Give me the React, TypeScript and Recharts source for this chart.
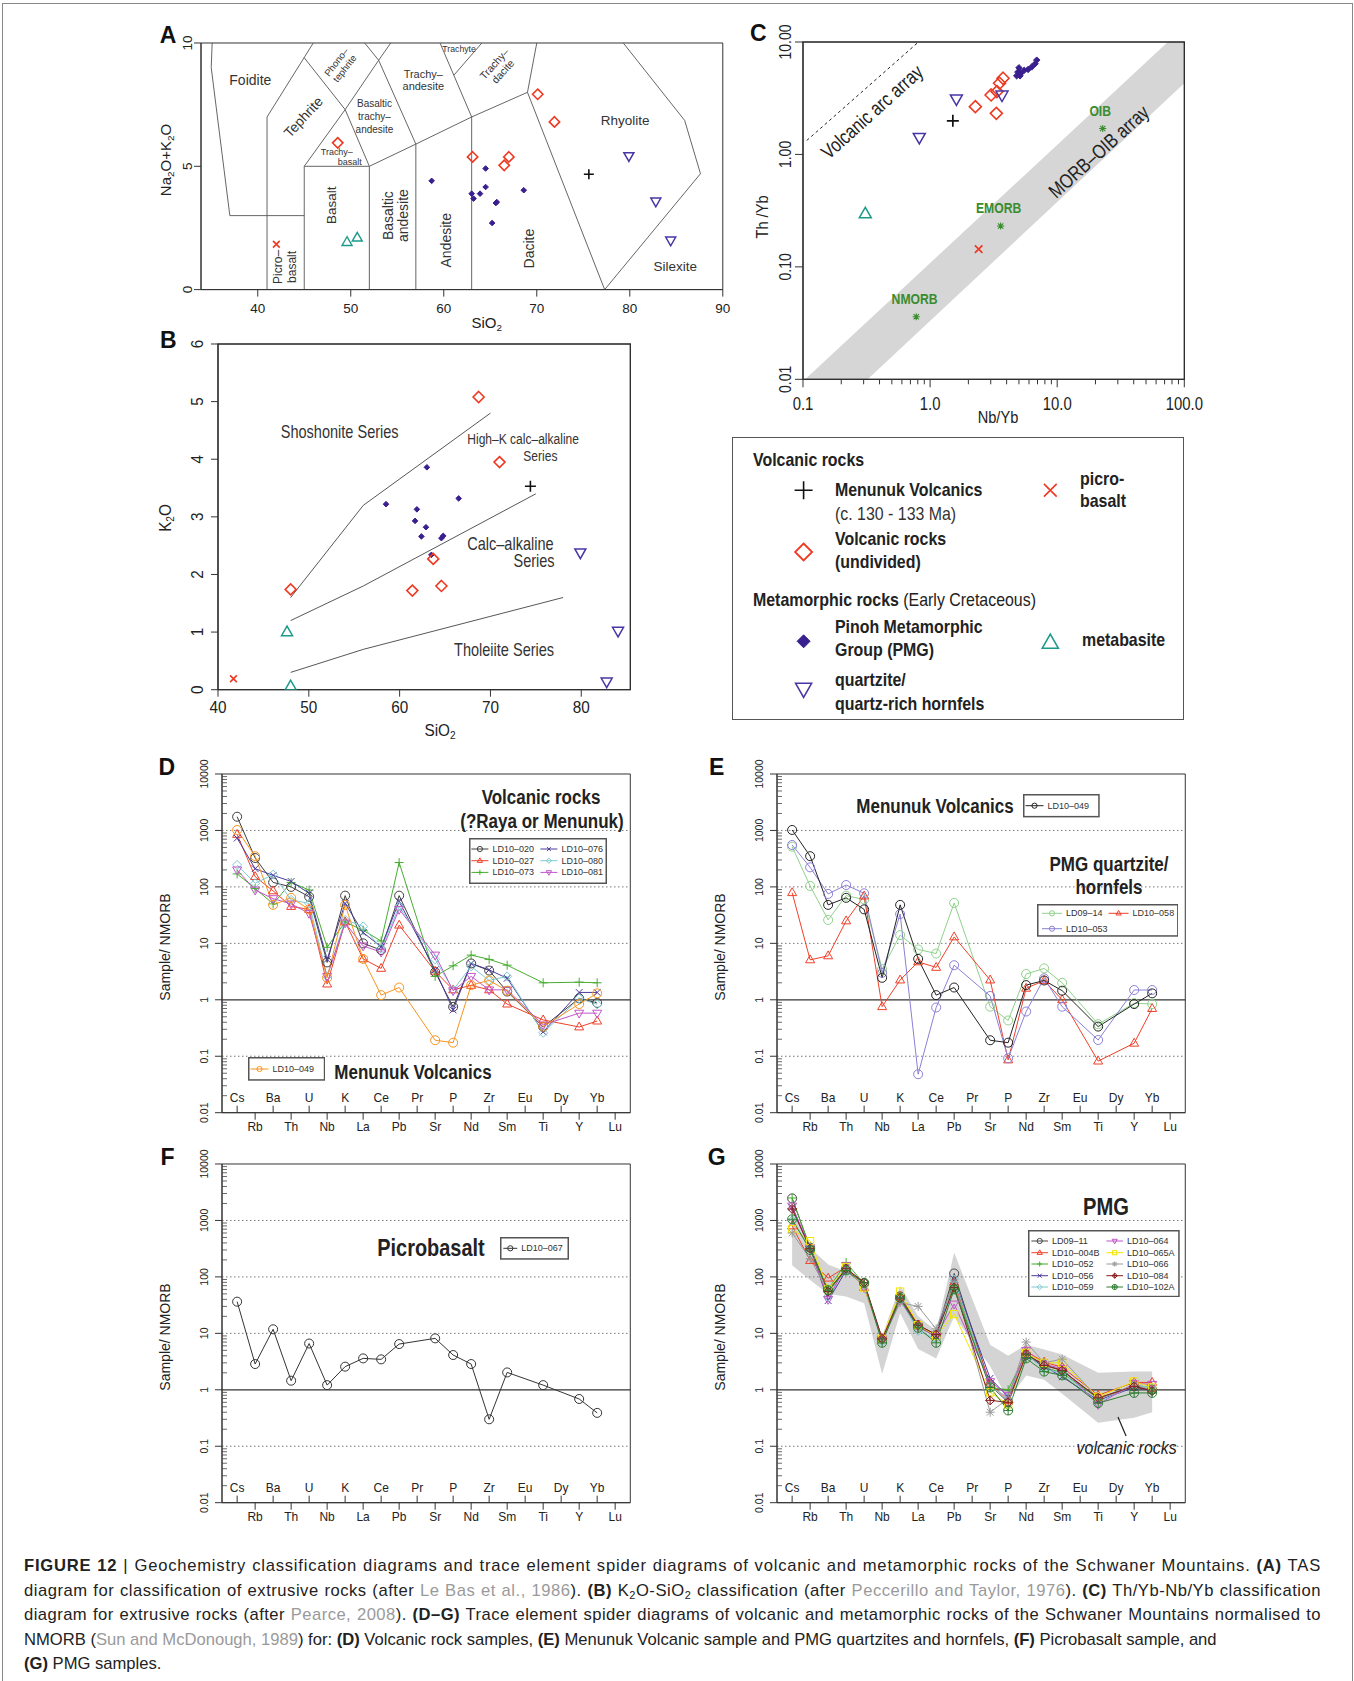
import React from 'react';
import {
  ComposedChart,
  XAxis,
  YAxis,
  Scatter,
  Line,
  Area,
  ReferenceLine,
  ReferenceArea,
  ReferenceDot,
} from 'recharts';

const SANS = '"Liberation Sans", Arial, sans-serif';

const RED = '#ee3a23';
const TEAL = '#1c9a8a';
const QTZ = '#4a35a6';
const PMG = '#3a1f8f';
const REFGREEN = '#3a8c2f';

// ---------- A: TAS (SiO2 vs Na2O+K2O) ----------
const TAS_X_TICKS = [40, 50, 60, 70, 80, 90];
const TAS_Y_TICKS = [0, 5, 10];
const TAS_PMG = [
  { x: 58.7, y: 4.41 }, { x: 64.5, y: 4.91 }, { x: 64.5, y: 4.16 }, { x: 63.0, y: 3.89 },
  { x: 63.9, y: 3.89 }, { x: 63.2, y: 3.69 }, { x: 65.6, y: 3.51 }, { x: 65.7, y: 3.55 },
  { x: 65.2, y: 2.7 }, { x: 68.6, y: 4.03 },
];
const TAS_VOLC = [
  { x: 48.6, y: 5.95 }, { x: 63.1, y: 5.38 }, { x: 66.5, y: 5.04 }, { x: 67.0, y: 5.38 },
  { x: 70.1, y: 7.92 }, { x: 71.9, y: 6.8 },
];
const TAS_MENUNUK = [{ x: 75.6, y: 4.68 }];
const TAS_PICRO = [{ x: 42.0, y: 1.84 }];
const TAS_META = [{ x: 49.6, y: 1.92 }, { x: 50.7, y: 2.1 }];
const TAS_QTZ = [{ x: 79.9, y: 5.42 }, { x: 82.8, y: 3.58 }, { x: 84.4, y: 2.0 }];
// field boundaries (Le Bas et al. 1986), cut at 10 wt%
const TAS_BOUNDARIES = [
  [[41, 0], [41, 7], [45.97, 10]],
  [[35.1, 10], [35, 9], [37, 3], [45, 3]],
  [[45, 0], [45, 5], [49.4, 7.3], [53, 9.3], [54.3, 10]],
  [[45, 5], [52, 5], [57, 5.9], [63, 7], [69, 8], [77.3, 0]],
  [[52, 0], [52, 5]],
  [[57, 0], [57, 5.9]],
  [[63, 0], [63, 7]],
  [[52, 5], [49.4, 7.3]],
  [[45, 9.4], [49.4, 7.3]],
  [[53, 9.3], [51.5, 10]],
  [[57, 5.9], [53, 9.3]],
  [[63, 7], [59.6, 10]],
  [[61.1, 8.7], [64.1, 10]],
  [[69, 8], [70, 10]],
  [[79.3, 10], [85.9, 6.86], [87.6, 4.7], [77.3, 0]],
];

// ---------- B: K2O vs SiO2 ----------
const K2O_X_TICKS = [40, 50, 60, 70, 80];
const K2O_Y_TICKS = [0, 1, 2, 3, 4, 5, 6];
const K2O_PMG = [
  { x: 58.5, y: 3.22 }, { x: 63.0, y: 3.86 }, { x: 61.9, y: 3.13 }, { x: 61.7, y: 2.93 },
  { x: 62.9, y: 2.82 }, { x: 62.4, y: 2.66 }, { x: 66.5, y: 3.32 }, { x: 64.6, y: 2.63 },
  { x: 64.8, y: 2.67 }, { x: 63.5, y: 2.34 },
];
const K2O_VOLC = [
  { x: 68.7, y: 5.08 }, { x: 71.0, y: 3.95 }, { x: 63.7, y: 2.27 }, { x: 61.4, y: 1.72 },
  { x: 64.6, y: 1.8 }, { x: 48.0, y: 1.74 },
];
const K2O_MENUNUK = [{ x: 74.4, y: 3.53 }];
const K2O_PICRO = [{ x: 41.7, y: 0.19 }];
const K2O_META = [{ x: 47.6, y: 1.0 }, { x: 48.0, y: 0.06 }];
const K2O_QTZ = [{ x: 79.9, y: 2.38 }, { x: 84.05, y: 1.02 }, { x: 82.8, y: 0.14 }];
const K2O_BOUNDARIES = [
  [[48, 1.6], [56, 3.2], [70, 4.8]],
  [[48, 1.2], [56, 1.8], [75, 3.4]],
  [[48, 0.3], [56, 0.7], [78, 1.6]],
];

// ---------- C: Th/Yb vs Nb/Yb ----------
const C_X_MAJOR = [0.1, 1, 10, 100];
const C_X_LABELS = ['0.1', '1.0', '10.0', '100.0'];
const C_Y_MAJOR = [0.01, 0.1, 1, 10];
const C_Y_LABELS = ['0.01', '0.10', '1.00', '10.00'];
const C_PMG = [
  { x: 4.8, y: 5.0 }, { x: 4.9, y: 5.4 }, { x: 5.0, y: 5.9 }, { x: 5.2, y: 5.3 }, { x: 5.5, y: 5.6 },
  { x: 5.9, y: 5.7 }, { x: 6.3, y: 6.0 }, { x: 6.7, y: 6.4 }, { x: 6.9, y: 6.9 }, { x: 5.1, y: 5.0 },
];
const C_VOLC = [
  { x: 2.27, y: 2.66 }, { x: 3.32, y: 2.32 }, { x: 3.02, y: 3.38 }, { x: 3.36, y: 3.62 },
  { x: 3.52, y: 4.3 }, { x: 3.75, y: 4.76 },
];
const C_MENUNUK = [{ x: 1.51, y: 1.99 }];
const C_PICRO = [{ x: 2.41, y: 0.144 }];
const C_META = [{ x: 0.309, y: 0.296 }];
const C_QTZ = [{ x: 0.822, y: 1.42 }, { x: 1.61, y: 3.12 }, { x: 3.68, y: 3.38 }];
const C_REFS = [{ x: 0.778, y: 0.036 }, { x: 3.59, y: 0.231 }, { x: 22.8, y: 1.7 }];
const C_BAND = [
  { x: 0.1, band: [0.0029, 0.0096] },
  { x: 100, band: [4.3, 13.7] },
];
const C_ARC = [{ x: 0.107, y: 1.33 }, { x: 0.79, y: 9.75 }];

// ---------- D-G: spider diagrams (sample / NMORB) ----------
const ELEMENTS = ['Cs', 'Rb', 'Ba', 'Th', 'U', 'Nb', 'K', 'La', 'Ce', 'Pb', 'Pr', 'Sr', 'P', 'Nd', 'Zr', 'Sm', 'Eu', 'Ti', 'Dy', 'Y', 'Yb', 'Lu'];
const MEASURED = ['Cs', 'Rb', 'Ba', 'Th', 'U', 'Nb', 'K', 'La', 'Ce', 'Pb', 'Sr', 'P', 'Nd', 'Zr', 'Sm', 'Ti', 'Y', 'Yb'];
const SPIDER_MAJOR = [0.01, 0.1, 1, 10, 100, 1000, 10000];
const SPIDER_LABELS = ['0.01', '0.1', '1', '10', '100', '1000', '10000'];

const LD10_020 = [1750, 325, 120, 100, 67, 4.6, 70, 10, 7.6, 70, 3.1, 0.75, 4.4, 3.3, 1.4, 0.33, 1.06, 0.88];
const LD10_027 = [850, 152, 85, 45, 40, 1.9, 24, 5.3, 3.6, 21, 3.2, 1.5, 1.8, 1.5, 0.84, 0.44, 0.33, 0.42];
const LD10_073 = [170, 94, 50, 120, 88, 8.5, 24, 17, 11, 270, 2.6, 4.0, 6.2, 5.2, 4.1, 2.0, 2.05, 2.0];
const LD10_076 = [730, 210, 160, 125, 77, 5.2, 51, 15.5, 8.7, 55, 3.4, 0.66, 4.4, 3.4, 2.4, 0.27, 1.35, 1.35];
const LD10_080 = [245, 116, 165, 59, 51, 2.6, 26, 20, 8, 45, 5.2, 1.5, 3.9, 2.2, 2.6, 0.26, 1.06, 0.83];
const LD10_081 = [200, 88, 62, 50, 34, 2.6, 23, 9, 7, 40, 6.2, 1.45, 2.6, 1.5, 1.5, 0.36, 0.58, 0.58];
const LD10_049 = [1020, 350, 48, 64, 40, 2.45, 48, 5.3, 1.21, 1.65, 0.192, 0.174, 1.82, 2.2, 1.45, 0.335, 0.84, 1.3];
const LD09_14 = [516, 104, 26, 70, 60, 3.5, 14, 7.8, 6.6, 52, 0.755, 0.43, 2.86, 3.6, 2.0, 0.37, 0.87, 0.84];
const LD10_058 = [79, 5.1, 6.0, 25, 69, 0.755, 2.24, 4.7, 3.75, 13, 2.24, 0.086, 1.6, 2.18, 1.0, 0.082, 0.17, 0.7];
const LD10_053 = [553, 222, 75, 108, 77, 3.0, 33, 0.048, 0.73, 4.1, 1.17, 0.092, 0.62, 2.4, 0.755, 0.194, 1.49, 1.49];
const LD10_067 = [36.4, 2.86, 11.8, 1.45, 6.6, 1.21, 2.57, 3.6, 3.46, 6.46, 8.15, 4.13, 2.86, 0.3, 2.03, 1.21, 0.687, 0.39];
const LD09_11 = [2460, 330, 58, 140, 78, 8, 45, 14, 9.5, 115, 1.2, 0.6, 4.2, 2.8, 2.2, 0.7, 1.15, 1.0];
const LD10_004B = [800, 195, 95, 150, 65, 8, 45, 14, 9, 80, 1.3, 0.65, 4.8, 3.1, 2.5, 0.8, 1.35, 1.35];
const LD10_052 = [2500, 320, 60, 180, 75, 7.5, 45, 13, 9, 70, 1.1, 1.0, 4.5, 2.5, 2.0, 0.7, 1.2, 1.1];
const LD10_056 = [1700, 320, 38, 130, 70, 8, 40, 13, 9, 90, 1.6, 0.75, 4.0, 2.6, 1.7, 0.65, 1.1, 1.0];
const LD10_059 = [1000, 330, 45, 150, 70, 7, 40, 11, 8, 90, 1.1, 0.75, 4.3, 2.3, 2.0, 0.6, 1.2, 1.1];
const LD10_064 = [1800, 330, 40, 160, 65, 8, 38, 13, 9, 33, 1.4, 0.8, 5.0, 2.8, 2.4, 0.55, 1.3, 1.25];
const LD10_065A = [700, 430, 60, 150, 65, 8, 55, 14, 9, 22, 0.9, 0.55, 4.5, 3.0, 3.0, 0.75, 1.4, 1.1];
const LD10_066 = [600, 210, 55, 130, 70, 7.5, 35, 30, 12, 80, 0.4, 0.7, 7.0, 3.0, 3.5, 0.7, 1.2, 1.0];
const LD10_084 = [1600, 320, 55, 140, 80, 8, 42, 14, 9.5, 65, 0.65, 0.6, 4.3, 2.7, 2.2, 0.72, 1.15, 0.95];
const LD10_102A = [1050, 300, 58, 130, 78, 6.8, 42, 12.5, 6.8, 60, 1.1, 0.43, 3.6, 2.1, 1.8, 0.58, 0.88, 0.88];
// grey envelope of the volcanic rocks shown in G
const VOLC_BAND_LO = [160, 88, 50, 45, 34, 1.9, 23, 5.3, 3.6, 20, 2.6, 0.66, 1.8, 1.5, 0.85, 0.26, 0.32, 0.4];
const VOLC_BAND_HI = [1800, 330, 165, 125, 88, 9, 70, 20, 11, 270, 6.3, 4, 6.3, 5.2, 4.2, 2.0, 2.1, 2.1];

type Kind = 'circle' | 'tri' | 'dtri' | 'plus' | 'cross' | 'diamond' | 'fdiamond' | 'square' | 'star' | 'dplus' | 'cplus';
interface Series { id: string; values: number[]; color: string; kind: Kind }

const SERIES_D: Series[] = [
  { id: 'LD10–020', values: LD10_020, color: '#3d3d3d', kind: 'circle' },
  { id: 'LD10–027', values: LD10_027, color: '#f03f28', kind: 'tri' },
  { id: 'LD10–073', values: LD10_073, color: '#44ad2c', kind: 'plus' },
  { id: 'LD10–076', values: LD10_076, color: '#4a3a9c', kind: 'cross' },
  { id: 'LD10–080', values: LD10_080, color: '#7fcad2', kind: 'diamond' },
  { id: 'LD10–081', values: LD10_081, color: '#c056c8', kind: 'dtri' },
  { id: 'LD10–049', values: LD10_049, color: '#f7941d', kind: 'circle' },
];
const SERIES_E: Series[] = [
  { id: 'LD09–14', values: LD09_14, color: '#8fd18b', kind: 'circle' },
  { id: 'LD10–058', values: LD10_058, color: '#f03f28', kind: 'tri' },
  { id: 'LD10–053', values: LD10_053, color: '#8a80d6', kind: 'circle' },
  { id: 'LD10–049', values: LD10_049, color: '#222222', kind: 'circle' },
];
const SERIES_F: Series[] = [{ id: 'LD10–067', values: LD10_067, color: '#333333', kind: 'circle' }];
const SERIES_G: Series[] = [
  { id: 'LD09–11', values: LD09_11, color: '#444444', kind: 'circle' },
  { id: 'LD10–004B', values: LD10_004B, color: '#f03f28', kind: 'tri' },
  { id: 'LD10–052', values: LD10_052, color: '#44ad2c', kind: 'plus' },
  { id: 'LD10–056', values: LD10_056, color: '#4a3a9c', kind: 'cross' },
  { id: 'LD10–059', values: LD10_059, color: '#7fcad2', kind: 'diamond' },
  { id: 'LD10–064', values: LD10_064, color: '#c056c8', kind: 'dtri' },
  { id: 'LD10–065A', values: LD10_065A, color: '#f2e600', kind: 'square' },
  { id: 'LD10–066', values: LD10_066, color: '#9a9a9a', kind: 'star' },
  { id: 'LD10–084', values: LD10_084, color: '#8b1c1c', kind: 'dplus' },
  { id: 'LD10–102A', values: LD10_102A, color: '#2e7d32', kind: 'cplus' },
];

// ---------- shared drawing helpers ----------
function Marker({ kind, cx, cy, s, color, sw = 1 }: { kind: Kind; cx?: number; cy?: number; s: number; color: string; sw?: number }) {
  if (cx == null || cy == null || isNaN(cx) || isNaN(cy)) return <g />;
  const p = { stroke: color, strokeWidth: sw, fill: 'none' };
  const dia = `${cx},${cy - s} ${cx + s},${cy} ${cx},${cy + s} ${cx - s},${cy}`;
  const plus = `M${cx - s},${cy}H${cx + s}M${cx},${cy - s}V${cy + s}`;
  const k = s * 0.75;
  const cross = `M${cx - k},${cy - k}L${cx + k},${cy + k}M${cx - k},${cy + k}L${cx + k},${cy - k}`;
  switch (kind) {
    case 'circle':
      return <circle cx={cx} cy={cy} r={s} {...p} />;
    case 'tri':
      return <polygon points={`${cx},${cy - s * 1.1} ${cx - s},${cy + s * 0.65} ${cx + s},${cy + s * 0.65}`} {...p} />;
    case 'dtri':
      return <polygon points={`${cx},${cy + s * 1.1} ${cx - s},${cy - s * 0.65} ${cx + s},${cy - s * 0.65}`} {...p} />;
    case 'plus':
      return <path d={plus} {...p} />;
    case 'cross':
      return <path d={cross} {...p} />;
    case 'diamond':
      return <polygon points={dia} {...p} />;
    case 'fdiamond':
      return <polygon points={dia} stroke={color} strokeWidth={sw} fill={color} />;
    case 'square':
      return <rect x={cx - s * 0.8} y={cy - s * 0.8} width={s * 1.6} height={s * 1.6} {...p} />;
    case 'star':
      return <path d={plus + cross} {...p} />;
    case 'dplus':
      return <g><polygon points={dia} {...p} /><path d={plus} {...p} /></g>;
    case 'cplus':
      return <g><circle cx={cx} cy={cy} r={s} {...p} /><path d={plus} {...p} /></g>;
  }
  return <g />;
}

interface NoteStyle { size: number; rot?: number; bold?: boolean; italic?: boolean; color?: string; lh?: number; sx?: number }

// svg text centred on (cx, cy), optionally rotated and horizontally condensed
function NoteText({ cx, cy, lines, size, rot = 0, bold, italic, color = '#333', lh = 1.1, sx = 1 }: NoteStyle & { cx: number; cy: number; lines: string[] }) {
  const step = size * lh;
  const first = -((lines.length - 1) * step) / 2 + size * 0.35;
  return (
    <text
      transform={`translate(${cx},${cy}) rotate(${rot}) scale(${sx},1)`}
      textAnchor="middle"
      fontSize={size}
      fontFamily={SANS}
      fontWeight={bold ? 'bold' : 'normal'}
      fontStyle={italic ? 'italic' : 'normal'}
      fill={color}
    >
      {lines.map((ln, i) => (
        <tspan key={i} x={0} dy={i === 0 ? first : step}>{ln}</tspan>
      ))}
    </text>
  );
}

function note(key: string, x: number, y: number, lines: string[], st: NoteStyle) {
  return (
    <ReferenceDot
      key={key}
      x={x}
      y={y}
      r={0}
      ifOverflow="visible"
      shape={(p: any) => <NoteText cx={p.cx} cy={p.cy} lines={lines} {...st} />}
    />
  );
}

function boundaryLines(prefix: string, lines: number[][][], stroke = '#555') {
  const out: React.ReactNode[] = [];
  lines.forEach((pl, i) => {
    for (let j = 0; j < pl.length - 1; j++) {
      out.push(
        <ReferenceLine
          key={`${prefix}-${i}-${j}`}
          segment={[{ x: pl[j][0], y: pl[j][1] }, { x: pl[j + 1][0], y: pl[j + 1][1] }]}
          stroke={stroke}
          strokeWidth={0.9}
          ifOverflow="visible"
        />
      );
    }
  });
  return out;
}

function scatter(key: string, data: { x: number; y: number }[], kind: Kind, color: string, s: number, sw = 1.5) {
  return (
    <Scatter
      key={key}
      data={data}
      dataKey="y"
      isAnimationActive={false}
      shape={(p: any) => <Marker kind={kind} cx={p.cx} cy={p.cy} s={s} color={color} sw={sw} />}
    />
  );
}

// axis tick renderers (axes use tickSize 0, so x/y sit on the axis line)
const linXTick = (off: number, size: number, sx = 1) => (p: any) => (
  <g>
    <line x1={p.x} x2={p.x} y1={p.y} y2={p.y + 7} stroke="#333" />
    <text transform={`translate(${p.x},${p.y + off}) scale(${sx},1)`} textAnchor="middle" dominantBaseline="central" fontSize={size} fontFamily={SANS} fill="#222">
      {String(p.payload.value)}
    </text>
  </g>
);
const linYTick = (off: number, size: number, sx = 1) => (p: any) => (
  <g>
    <line x1={p.x - 7} x2={p.x} y1={p.y} y2={p.y} stroke="#333" />
    <text transform={`translate(${p.x - off},${p.y}) rotate(-90) scale(${sx},1)`} textAnchor="middle" dominantBaseline="central" fontSize={size} fontFamily={SANS} fill="#222">
      {String(p.payload.value)}
    </text>
  </g>
);

const logTicks = (majors: number[]) => {
  const t: number[] = [];
  majors.forEach((m, i) => {
    t.push(m);
    if (i < majors.length - 1) [2, 3, 4, 5, 6, 7, 8, 9].forEach((k) => t.push(+(m * k).toPrecision(6)));
  });
  return t;
};

const C_X_TICKS = logTicks(C_X_MAJOR);
const SPIDER_TICKS = logTicks(SPIDER_MAJOR);
const ELEMENT_TICKS = ELEMENTS.map((_, i) => i + 1);

const cXTick = (p: any) => {
  const idx = C_X_MAJOR.indexOf(p.payload.value);
  return (
    <g>
      <line x1={p.x} x2={p.x} y1={p.y} y2={p.y + (idx >= 0 ? 8 : 5)} stroke="#333" />
      {idx >= 0 && (
        <text transform={`translate(${p.x},${p.y + 24}) scale(0.85,1)`} textAnchor="middle" dominantBaseline="central" fontSize={17.5} fontFamily={SANS} fill="#222">
          {C_X_LABELS[idx]}
        </text>
      )}
    </g>
  );
};
const cYTick = (p: any) => {
  const idx = C_Y_MAJOR.indexOf(p.payload.value);
  return (
    <g>
      <line x1={p.x - 8} x2={p.x} y1={p.y} y2={p.y} stroke="#333" />
      <text transform={`translate(${p.x - 18},${p.y}) rotate(-90) scale(0.85,1)`} textAnchor="middle" dominantBaseline="central" fontSize={16.5} fontFamily={SANS} fill="#222">
        {C_Y_LABELS[idx]}
      </text>
    </g>
  );
};

const spiderXTick = (p: any) => {
  const i = p.payload.value;
  const up = i % 2 === 1;
  return (
    <g>
      <line x1={p.x} x2={p.x} y1={p.y} y2={up ? p.y - 7 : p.y + 7} stroke="#333" />
      <text x={p.x} y={up ? p.y - 15 : p.y + 14} textAnchor="middle" dominantBaseline="central" fontSize={12} fontFamily={SANS} fill="#222">
        {ELEMENTS[i - 1]}
      </text>
    </g>
  );
};
const spiderYTick = (p: any) => {
  const idx = SPIDER_MAJOR.indexOf(p.payload.value);
  if (idx < 0) return <line x1={p.x} x2={p.x + 5} y1={p.y} y2={p.y} stroke="#444" strokeWidth={0.8} />;
  return (
    <g>
      <line x1={p.x - 7} x2={p.x} y1={p.y} y2={p.y} stroke="#333" />
      <text transform={`translate(${p.x - 18},${p.y}) rotate(-90)`} textAnchor="middle" dominantBaseline="central" fontSize={10.5} fontFamily={SANS} fill="#222">
        {SPIDER_LABELS[idx]}
      </text>
    </g>
  );
};

// ---------- layout ----------
const YW = 60;
const XH = 50;
const MARGIN = { top: 28, right: 34, bottom: 10, left: 10 };
interface Box { l: number; t: number; r: number; b: number }

function Plot({ box, data, children }: { box: Box; data?: any[]; children: React.ReactNode }) {
  return (
    <div style={{ position: 'absolute', left: box.l - YW - MARGIN.left, top: box.t - MARGIN.top }}>
      <ComposedChart
        width={box.r - box.l + YW + MARGIN.left + MARGIN.right}
        height={box.b - box.t + XH + MARGIN.top + MARGIN.bottom}
        data={data}
        margin={MARGIN}
      >
        {children}
      </ComposedChart>
    </div>
  );
}

function Txt({ x, y, size, children, bold, italic, rot = 0, anchor = 'middle', sx = 1, color = '#222' }: {
  x: number; y: number; size: number; children: React.ReactNode; bold?: boolean; italic?: boolean; rot?: number; anchor?: string; sx?: number; color?: string;
}) {
  const tx = anchor === 'middle' ? '-50%' : anchor === 'end' ? '-100%' : '0%';
  return (
    <div
      style={{
        position: 'absolute', left: x, top: y,
        transform: `translate(${tx}, -50%) rotate(${rot}deg) scaleX(${sx})`,
        transformOrigin: anchor === 'start' ? 'left center' : 'center',
        fontSize: size, fontWeight: bold ? 700 : 400, fontStyle: italic ? 'italic' : 'normal',
        fontFamily: SANS, color, whiteSpace: 'nowrap', lineHeight: 1,
      }}
    >
      {children}
    </div>
  );
}

const Sub = ({ children }: { children: React.ReactNode }) => (
  <span style={{ fontSize: '0.66em', position: 'relative', top: '0.3em' }}>{children}</span>
);

const BOX_A: Box = { l: 200.8, t: 42.7, r: 722.6, b: 289.3 };
const BOX_B: Box = { l: 217.7, t: 344.3, r: 630, b: 690 };
const BOX_C: Box = { l: 802.7, t: 42, r: 1184, b: 379.3 };
const BOX_D: Box = { l: 221.7, t: 774, r: 630, b: 1112.7 };
const BOX_E: Box = { l: 776.7, t: 774, r: 1185, b: 1112.7 };
const BOX_F: Box = { l: 221.7, t: 1164, r: 630, b: 1502.7 };
const BOX_G: Box = { l: 776.7, t: 1164, r: 1185, b: 1502.7 };

function TasChart() {
  return (
    <Plot box={BOX_A}>
      <XAxis type="number" dataKey="x" domain={[33.9, 90]} ticks={TAS_X_TICKS} interval={0} height={XH} tickLine={false} tickSize={0} tickMargin={0} tick={linXTick(19, 13.5)} axisLine={{ stroke: '#333' }} allowDataOverflow />
      <YAxis type="number" dataKey="y" domain={[0, 10]} ticks={TAS_Y_TICKS} interval={0} width={YW} tickLine={false} tickSize={0} tickMargin={0} tick={linYTick(14, 13.5)} axisLine={{ stroke: '#333' }} allowDataOverflow />
      {boundaryLines('tas', TAS_BOUNDARIES)}
      {note('f1', 39.2, 8.5, ['Foidite'], { size: 14 })}
      {note('f2', 48.9, 9.1, ['Phono–', 'tephrite'], { size: 9.5, rot: -52, lh: 1.1 })}
      {note('f3', 44.9, 7.0, ['Tephrite'], { size: 14, rot: -47 })}
      {note('f4', 57.8, 8.5, ['Trachy–', 'andesite'], { size: 11, lh: 1.12 })}
      {note('f5', 61.65, 9.77, ['Trachyte'], { size: 8.7 })}
      {note('f6', 65.9, 9.0, ['Trachy–', 'dacite'], { size: 10.5, rot: -48, lh: 1.1 })}
      {note('f7', 52.55, 7.0, ['Basaltic', 'trachy–', 'andesite'], { size: 10, lh: 1.3 })}
      {note('f8', 48.5, 5.58, ['Trachy–'], { size: 9 })}
      {note('f9', 49.9, 5.18, ['basalt'], { size: 9 })}
      {note('f10', 47.9, 3.42, ['Basalt'], { size: 13.5, rot: -90 })}
      {note('f11', 54.8, 3.0, ['Basaltic', 'andesite'], { size: 14, rot: -90, lh: 1.07 })}
      {note('f12', 60.25, 2.0, ['Andesite'], { size: 14, rot: -90 })}
      {note('f13', 69.15, 1.66, ['Dacite'], { size: 14, rot: -90 })}
      {note('f14', 79.5, 6.87, ['Rhyolite'], { size: 13.5 })}
      {note('f15', 84.9, 0.96, ['Silexite'], { size: 13.5 })}
      {note('f16', 42.9, 0.92, ['Picro–', 'basalt'], { size: 12, rot: -90, lh: 1.1 })}
      {scatter('pmg', TAS_PMG, 'fdiamond', PMG, 2.8, 1)}
      {scatter('volc', TAS_VOLC, 'diamond', RED, 5.2, 1.6)}
      {scatter('men', TAS_MENUNUK, 'plus', '#111', 5, 1.6)}
      {scatter('pic', TAS_PICRO, 'cross', RED, 4.5, 1.6)}
      {scatter('meta', TAS_META, 'tri', TEAL, 5, 1.4)}
      {scatter('qtz', TAS_QTZ, 'dtri', QTZ, 5, 1.5)}
      <ReferenceArea x1={33.9} x2={90} y1={0} y2={10} fill="none" stroke="#333" ifOverflow="visible" />
    </Plot>
  );
}

function K2OChart() {
  return (
    <Plot box={BOX_B}>
      <XAxis type="number" dataKey="x" domain={[40, 85.4]} ticks={K2O_X_TICKS} interval={0} height={XH} tickLine={false} tickSize={0} tickMargin={0} tick={linXTick(17.5, 17, 0.9)} axisLine={{ stroke: '#333' }} allowDataOverflow />
      <YAxis type="number" dataKey="y" domain={[0, 6]} ticks={K2O_Y_TICKS} interval={0} width={YW} tickLine={false} tickSize={0} tickMargin={0} tick={linYTick(21, 17, 0.9)} axisLine={{ stroke: '#333' }} allowDataOverflow />
      {boundaryLines('k2o', K2O_BOUNDARIES, '#444')}
      {note('s1', 53.4, 4.48, ['Shoshonite Series'], { size: 17.5, sx: 0.83 })}
      {note('s2', 73.6, 4.35, ['High–K calc–alkaline'], { size: 14.5, sx: 0.83 })}
      {note('s3', 75.5, 4.05, ['Series'], { size: 14.5, sx: 0.83 })}
      {note('s4', 72.2, 2.53, ['Calc–alkaline'], { size: 17.5, sx: 0.83 })}
      {note('s5', 74.8, 2.24, ['Series'], { size: 17.5, sx: 0.83 })}
      {note('s6', 71.5, 0.69, ['Tholeiite Series'], { size: 17.5, sx: 0.83 })}
      {scatter('pmg', K2O_PMG, 'fdiamond', PMG, 2.8, 1)}
      {scatter('volc', K2O_VOLC, 'diamond', RED, 5.5, 1.6)}
      {scatter('men', K2O_MENUNUK, 'plus', '#111', 5.5, 1.6)}
      {scatter('pic', K2O_PICRO, 'cross', RED, 4.5, 1.6)}
      {scatter('meta', K2O_META, 'tri', TEAL, 5.5, 1.5)}
      {scatter('qtz', K2O_QTZ, 'dtri', QTZ, 5.5, 1.5)}
      <ReferenceArea x1={40} x2={85.4} y1={0} y2={6} fill="none" stroke="#222" strokeWidth={1.3} ifOverflow="visible" />
    </Plot>
  );
}

function ThNbChart() {
  return (
    <Plot box={BOX_C}>
      <XAxis type="number" dataKey="x" scale="log" domain={[0.1, 100]} ticks={C_X_TICKS} interval={0} height={XH} tickLine={false} tickSize={0} tickMargin={0} tick={cXTick} axisLine={{ stroke: '#333' }} allowDataOverflow />
      <YAxis type="number" dataKey="y" scale="log" domain={[0.01, 10]} ticks={C_Y_MAJOR} interval={0} width={YW} tickLine={false} tickSize={0} tickMargin={0} tick={cYTick} axisLine={{ stroke: '#333' }} allowDataOverflow />
      <Area data={C_BAND} dataKey="band" type="linear" stroke="none" fill="#d6d6d6" fillOpacity={1} isAnimationActive={false} activeDot={false} />
      <ReferenceLine segment={C_ARC} stroke="#222" strokeDasharray="3 3" strokeWidth={1} ifOverflow="visible" />
      {note('c1', 0.349, 2.4, ['Volcanic arc array'], { size: 20, rot: -42, color: '#222', sx: 0.81 })}
      {note('c2', 21.2, 1.06, ['MORB–OIB array'], { size: 20, rot: -42, color: '#222', sx: 0.81 })}
      {note('c3', 21.8, 2.45, ['OIB'], { size: 14.5, bold: true, color: REFGREEN, sx: 0.84 })}
      {note('c4', 3.46, 0.332, ['EMORB'], { size: 14.5, bold: true, color: REFGREEN, sx: 0.84 })}
      {note('c5', 0.755, 0.0518, ['NMORB'], { size: 14.5, bold: true, color: REFGREEN, sx: 0.84 })}
      {scatter('refs', C_REFS, 'star', REFGREEN, 3.6, 1.1)}
      {scatter('pmg', C_PMG, 'fdiamond', PMG, 3.2, 1)}
      {scatter('volc', C_VOLC, 'diamond', RED, 6, 1.6)}
      {scatter('men', C_MENUNUK, 'plus', '#111', 6, 1.7)}
      {scatter('pic', C_PICRO, 'cross', RED, 5, 1.7)}
      {scatter('meta', C_META, 'tri', TEAL, 6, 1.5)}
      {scatter('qtz', C_QTZ, 'dtri', QTZ, 6, 1.5)}
      <ReferenceArea x1={0.1} x2={100} y1={0.01} y2={10} fill="none" stroke="#222" strokeWidth={1.3} ifOverflow="visible" />
    </Plot>
  );
}

function SpiderChart({ box, series, band, children }: { box: Box; series: Series[]; band?: { lo: number[]; hi: number[] }; children?: React.ReactNode }) {
  const rows = MEASURED.map((el, i) => {
    const row: Record<string, any> = { pos: ELEMENTS.indexOf(el) + 1 };
    series.forEach((s) => { row[s.id] = s.values[i]; });
    if (band) row.band = [band.lo[i], band.hi[i]];
    return row;
  });
  return (
    <Plot box={box} data={rows}>
      <XAxis type="number" dataKey="pos" domain={[0.16, 22.84]} ticks={ELEMENT_TICKS} interval={0} height={XH} tickLine={false} tickSize={0} tickMargin={0} tick={spiderXTick} axisLine={{ stroke: '#333' }} allowDataOverflow />
      <YAxis type="number" scale="log" domain={[0.01, 10000]} ticks={SPIDER_TICKS} interval={0} width={YW} tickLine={false} tickSize={0} tickMargin={0} tick={spiderYTick} axisLine={{ stroke: '#333' }} allowDataOverflow />
      {band && <Area dataKey="band" type="linear" stroke="none" fill="#d4d4d4" fillOpacity={1} isAnimationActive={false} activeDot={false} />}
      {[0.1, 10, 100, 1000].map((v) => (
        <ReferenceLine key={v} y={v} stroke="#777" strokeDasharray="1.5 2.5" />
      ))}
      <ReferenceLine y={1} stroke="#333" strokeWidth={1.2} />
      {series.map((s) => (
        <Line
          key={s.id}
          dataKey={s.id}
          type="linear"
          stroke={s.color}
          strokeWidth={1}
          isAnimationActive={false}
          activeDot={false}
          dot={(p: any) => <Marker key={`${s.id}-${p.index}`} kind={s.kind} cx={p.cx} cy={p.cy} s={4.5} color={s.color} />}
        />
      ))}
      {children}
      <ReferenceArea x1={0.16} x2={22.84} y1={0.01} y2={10000} fill="none" stroke="#333" ifOverflow="visible" />
    </Plot>
  );
}

function SeriesLegend({ x, y, w, h, items, lineW = 17 }: { x: number; y: number; w: number; h: number; items: { s: Series; dx: number; dy: number }[]; lineW?: number }) {
  return (
    <svg style={{ position: 'absolute', left: x, top: y }} width={w} height={h}>
      <rect x={0.75} y={0.75} width={w - 1.5} height={h - 1.5} fill="#fff" stroke="#555" strokeWidth={1.5} />
      {items.map(({ s, dx, dy }) => (
        <g key={s.id}>
          <line x1={dx} x2={dx + lineW} y1={dy} y2={dy} stroke={s.color} />
          <Marker kind={s.kind} cx={dx + lineW / 2} cy={dy} s={2.6} color={s.color} />
          <text x={dx + lineW + 4} y={dy} dominantBaseline="central" fontSize={9} fontFamily={SANS} fill="#333">{s.id}</text>
        </g>
      ))}
    </svg>
  );
}

const LSX = 0.86;

function SymbolLegend() {
  const L = 731.7;
  const T = 437;
  const sym = (kind: Kind, x: number, y: number, color: string, s: number, sw: number) => (
    <Marker kind={kind} cx={x - L} cy={y - T} s={s} color={color} sw={sw} />
  );
  return (
    <>
      <div style={{ position: 'absolute', left: L, top: T, width: 452.3, height: 283.3, border: '1.5px solid #555', boxSizing: 'border-box' }} />
      <svg style={{ position: 'absolute', left: L, top: T }} width={452} height={283}>
        {sym('plus', 803.3, 490.3, '#111', 9, 1.6)}
        {sym('diamond', 803.3, 552, RED, 8.5, 1.8)}
        {sym('cross', 1050, 490.3, RED, 8.5, 1.6)}
        {sym('fdiamond', 803.3, 641.3, PMG, 6.5, 1)}
        {sym('tri', 1050, 643, TEAL, 8, 1.6)}
        {sym('dtri', 803.3, 688.5, QTZ, 8, 1.6)}
      </svg>
      <Txt x={752.7} y={459.5} size={18.5} bold anchor="start" sx={LSX}>Volcanic rocks</Txt>
      <Txt x={835} y={490.3} size={18.5} bold anchor="start" sx={LSX}>Menunuk Volcanics</Txt>
      <Txt x={835} y={513.7} size={18.5} anchor="start" sx={LSX} color="#333">(c. 130 - 133 Ma)</Txt>
      <Txt x={835} y={539.3} size={18.5} bold anchor="start" sx={LSX}>Volcanic rocks</Txt>
      <Txt x={835} y={562} size={18.5} bold anchor="start" sx={LSX}>(undivided)</Txt>
      <Txt x={1080} y={478.7} size={18.5} bold anchor="start" sx={LSX}>picro-</Txt>
      <Txt x={1080} y={501} size={18.5} bold anchor="start" sx={LSX}>basalt</Txt>
      <Txt x={752.7} y={600.3} size={18.5} anchor="start" sx={LSX}>
        <b>Metamorphic rocks</b> (Early Cretaceous)
      </Txt>
      <Txt x={835} y={627} size={18.5} bold anchor="start" sx={LSX}>Pinoh Metamorphic</Txt>
      <Txt x={835} y={650.3} size={18.5} bold anchor="start" sx={LSX}>Group (PMG)</Txt>
      <Txt x={1081.7} y={640.3} size={18.5} bold anchor="start" sx={LSX}>metabasite</Txt>
      <Txt x={835} y={680.3} size={18.5} bold anchor="start" sx={LSX}>quartzite/</Txt>
      <Txt x={835} y={703.7} size={18.5} bold anchor="start" sx={LSX}>quartz-rich hornfels</Txt>
    </>
  );
}

const GREY = { color: '#9a9a9a' };
const TSX = 0.85;
const justified = (ls: number): React.CSSProperties => ({
  textAlign: 'justify', textAlignLast: 'justify', whiteSpace: 'nowrap', height: 24.6, letterSpacing: ls,
});
const PLAIN: React.CSSProperties = { whiteSpace: 'nowrap', height: 24.6 };

export default function App() {
  const d = SERIES_D;
  const g = SERIES_G;
  return (
    <div style={{ position: 'absolute', left: 0, top: 0, width: 1354, height: 1681, background: '#fff', overflow: 'hidden', fontFamily: SANS }}>
      <div style={{ position: 'absolute', left: 2, top: 3, width: 1349, height: 1700, border: '1px solid #888' }} />

      {/* A */}
      <TasChart />
      <Txt x={168} y={34.5} size={23} bold color="#111">A</Txt>
      <Txt x={165} y={160} size={15} rot={-90}>Na<Sub>2</Sub>O+K<Sub>2</Sub>O</Txt>
      <Txt x={486.7} y={321.7} size={15}>SiO<Sub>2</Sub></Txt>

      {/* B */}
      <K2OChart />
      <Txt x={168.3} y={339.7} size={23} bold color="#111">B</Txt>
      <Txt x={165} y={518.3} size={17} rot={-90} sx={0.9}>K<Sub>2</Sub>O</Txt>
      <Txt x={440} y={730} size={17} sx={0.9}>SiO<Sub>2</Sub></Txt>

      {/* C */}
      <ThNbChart />
      <Txt x={758.3} y={33.3} size={23} bold color="#111">C</Txt>
      <Txt x={761.7} y={216.7} size={17} rot={-90} sx={0.86}>Th /Yb</Txt>
      <Txt x={998.3} y={416.7} size={17} sx={0.86}>Nb/Yb</Txt>

      <SymbolLegend />

      {/* D */}
      <SpiderChart box={BOX_D} series={d} />
      <Txt x={166.7} y={766.7} size={23} bold color="#111">D</Txt>
      <Txt x={165} y={946.7} size={14} rot={-90}>Sample/ NMORB</Txt>
      <Txt x={540.7} y={797.3} size={20} bold sx={TSX}>Volcanic rocks</Txt>
      <Txt x={541.7} y={820.7} size={20} bold sx={TSX}>(?Raya or Menunuk)</Txt>
      <SeriesLegend
        x={469.3} y={838.3} w={138} h={46}
        items={[
          { s: d[0], dx: 2.4, dy: 11 }, { s: d[1], dx: 2.4, dy: 22.7 }, { s: d[2], dx: 2.4, dy: 34.4 },
          { s: d[3], dx: 71.4, dy: 11 }, { s: d[4], dx: 71.4, dy: 22.7 }, { s: d[5], dx: 71.4, dy: 34.4 },
        ]}
      />
      <SeriesLegend x={247.7} y={1057.3} w={77.3} h={23.7} lineW={18} items={[{ s: d[6], dx: 2.5, dy: 12 }]} />
      <Txt x={413.3} y={1071.7} size={20} bold sx={TSX}>Menunuk Volcanics</Txt>

      {/* E */}
      <SpiderChart box={BOX_E} series={SERIES_E} />
      <Txt x={716.7} y={766.7} size={23} bold color="#111">E</Txt>
      <Txt x={720} y={946.7} size={14} rot={-90}>Sample/ NMORB</Txt>
      <Txt x={935} y={806} size={20} bold sx={TSX}>Menunuk Volcanics</Txt>
      <SeriesLegend x={1023.3} y={794.3} w={76.7} h={23.4} lineW={18} items={[{ s: SERIES_E[3], dx: 2.5, dy: 11.7 }]} />
      <Txt x={1109} y={864} size={20} bold sx={TSX}>PMG quartzite/</Txt>
      <Txt x={1109} y={886.7} size={20} bold sx={TSX}>hornfels</Txt>
      <SeriesLegend
        x={1036.7} y={904} w={141.6} h={32.7} lineW={20}
        items={[
          { s: SERIES_E[0], dx: 5, dy: 9.3 }, { s: SERIES_E[1], dx: 71.6, dy: 9.3 }, { s: SERIES_E[2], dx: 5, dy: 24.7 },
        ]}
      />

      {/* F */}
      <SpiderChart box={BOX_F} series={SERIES_F} />
      <Txt x={167.5} y={1156.7} size={23} bold color="#111">F</Txt>
      <Txt x={165} y={1336.7} size={14} rot={-90}>Sample/ NMORB</Txt>
      <Txt x={430.7} y={1248.3} size={24} bold sx={0.83}>Picrobasalt</Txt>
      <SeriesLegend x={500} y={1237.3} w={69} h={22.7} lineW={14} items={[{ s: SERIES_F[0], dx: 3.3, dy: 11.3 }]} />

      {/* G */}
      <SpiderChart box={BOX_G} series={g} band={{ lo: VOLC_BAND_LO, hi: VOLC_BAND_HI }}>
        <ReferenceLine segment={[{ x: 19.1, y: 0.33 }, { x: 19.55, y: 0.152 }]} stroke="#222" strokeWidth={1.2} ifOverflow="visible" />
        {note('vr', 19.58, 0.096, ['volcanic rocks'], { size: 19, italic: true, color: '#222', sx: 0.84 })}
      </SpiderChart>
      <Txt x={716.7} y={1156.7} size={23} bold color="#111">G</Txt>
      <Txt x={720} y={1336.7} size={14} rot={-90}>Sample/ NMORB</Txt>
      <Txt x={1106} y={1206.7} size={24} bold sx={0.84}>PMG</Txt>
      <SeriesLegend
        x={1028.3} y={1230} w={151.7} h={67.3} lineW={16.6}
        items={[
          { s: g[0], dx: 3.4, dy: 11 }, { s: g[1], dx: 3.4, dy: 22.7 }, { s: g[2], dx: 3.4, dy: 34 },
          { s: g[3], dx: 3.4, dy: 45.7 }, { s: g[4], dx: 3.4, dy: 57 },
          { s: g[5], dx: 78.4, dy: 11 }, { s: g[6], dx: 78.4, dy: 22.7 }, { s: g[7], dx: 78.4, dy: 34 },
          { s: g[8], dx: 78.4, dy: 45.7 }, { s: g[9], dx: 78.4, dy: 57 },
        ]}
      />

      {/* caption */}
      <div style={{ position: 'absolute', left: 24, top: 1554, width: 1297, fontSize: 16.6, lineHeight: '24.6px', color: '#222', fontFamily: SANS }}>
        <div style={justified(0.78)}>
          <b>FIGURE 12</b> | Geochemistry classification diagrams and trace element spider diagrams of volcanic and metamorphic rocks of the Schwaner Mountains. <b>(A)</b> TAS
        </div>
        <div style={justified(0.52)}>
          diagram for classification of extrusive rocks (after <span style={GREY}>Le Bas et al., 1986</span>). <b>(B)</b> K<Sub>2</Sub>O-SiO<Sub>2</Sub> classification (after <span style={GREY}>Peccerillo and Taylor, 1976</span>). <b>(C)</b> Th/Yb-Nb/Yb classification
        </div>
        <div style={justified(0.45)}>
          diagram for extrusive rocks (after <span style={GREY}>Pearce, 2008</span>). <b>(D–G)</b> Trace element spider diagrams of volcanic and metamorphic rocks of the Schwaner Mountains normalised to
        </div>
        <div style={PLAIN}>
          NMORB (<span style={GREY}>Sun and McDonough, 1989</span>) for: <b>(D)</b> Volcanic rock samples, <b>(E)</b> Menunuk Volcanic sample and PMG quartzites and hornfels, <b>(F)</b> Picrobasalt sample, and
        </div>
        <div style={PLAIN}>
          <b>(G)</b> PMG samples.
        </div>
      </div>
    </div>
  );
}
